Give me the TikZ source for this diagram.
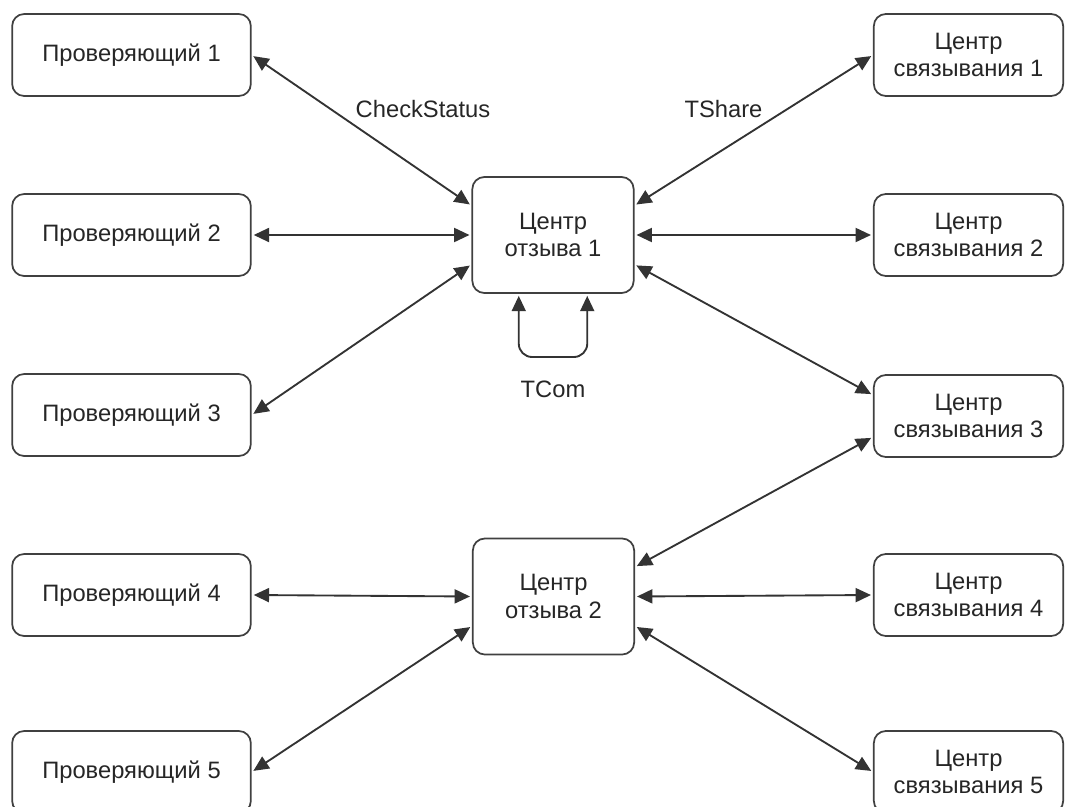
\documentclass[tikz,border=0pt]{standalone}
\usepackage{fontspec}
\setmainfont{Liberation Sans}
\usetikzlibrary{arrows.meta,calc}
\begin{document}
\begin{tikzpicture}[x=0.75pt,y=-0.75pt,
  box/.style={draw=black!75,line width=1.3pt,rounded corners=9pt,fill=white,
    align=center,font=\fontsize{17.8pt}{20.5pt}\selectfont,text=black!85,inner sep=0pt},
  leftbox/.style={box,minimum width=179pt,minimum height=61.5pt},
  midbox/.style={box,minimum width=121pt,minimum height=87pt},
  rightbox/.style={box,minimum width=142pt,minimum height=61.5pt},
  lbl/.style={font=\fontsize{17.8pt}{20.5pt}\selectfont,text=black!85,inner sep=0pt},
  conn/.style={draw=black!80,line width=1.4pt,
    {Triangle[length=11.5pt,width=10.5pt]}-{Triangle[length=11.5pt,width=10.5pt]},
    shorten <=1.5pt,shorten >=1.5pt}]
\useasboundingbox (0,0) rectangle (1065,807);

\node[leftbox] (p1) at (131.5,55) {Проверяющий 1};
\node[leftbox] (p2) at (131.5,235) {Проверяющий 2};
\node[leftbox] (p3) at (131.5,415) {Проверяющий 3};
\node[leftbox] (p4) at (131.5,595) {Проверяющий 4};
\node[leftbox] (p5) at (131.5,772) {Проверяющий 5};

\node[midbox] (c1) at (553,235) {Центр\\отзыва 1};
\node[midbox] (c2) at (553.5,596.5) {Центр\\отзыва 2};

\node[rightbox] (s1) at (968.5,55) {Центр\\связывания 1};
\node[rightbox] (s2) at (968.5,235) {Центр\\связывания 2};
\node[rightbox] (s3) at (968.5,416) {Центр\\связывания 3};
\node[rightbox] (s4) at (968.5,595) {Центр\\связывания 4};
\node[rightbox] (s5) at (968.5,772) {Центр\\связывания 5};

% attachment points
\coordinate (c1w1) at ($(c1.north west)!0.25!(c1.south west)$);
\coordinate (c1w3) at ($(c1.north west)!0.75!(c1.south west)$);
\coordinate (c1e1) at ($(c1.north east)!0.25!(c1.south east)$);
\coordinate (c1e3) at ($(c1.north east)!0.75!(c1.south east)$);
\coordinate (c2e1) at ($(c2.north east)!0.25!(c2.south east)$);
\coordinate (c2e3) at ($(c2.north east)!0.75!(c2.south east)$);
\coordinate (c2w3) at ($(c2.north west)!0.75!(c2.south west)$);
\coordinate (s3w1) at ($(s3.north west)!0.25!(s3.south west)$);
\coordinate (s3w3) at ($(s3.north west)!0.75!(s3.south west)$);
\coordinate (c1b1) at ($(c1.south west)!0.29!(c1.south east)$);
\coordinate (c1b2) at ($(c1.south west)!0.71!(c1.south east)$);
\coordinate (loopb) at (553,357);

\draw[conn] (p1.east) -- (c1w1);
\draw[conn] (p2.east) -- (c1.west);
\draw[conn] (p3.east) -- (c1w3);
\draw[conn] (c1e1) -- (s1.west);
\draw[conn] (c1.east) -- (s2.west);
\draw[conn] (c1e3) -- (s3w1);
\draw[conn,rounded corners=10pt] (c1b1) |- (loopb) -| (c1b2);

\draw[conn] (p4.east) -- (c2.west);
\draw[conn] (p5.east) -- (c2w3);
\draw[conn] (c2e1) -- (s3w3);
\draw[conn] (c2.east) -- (s4.west);
\draw[conn] (c2e3) -- (s5.west);

\node[lbl] (lcs) at (423,109) {CheckStatus};
\node[lbl] (lts) at (723.5,109) {TShare};
\node[lbl] (ltc) at (553,389) {TCom};
\end{tikzpicture}
\end{document}
